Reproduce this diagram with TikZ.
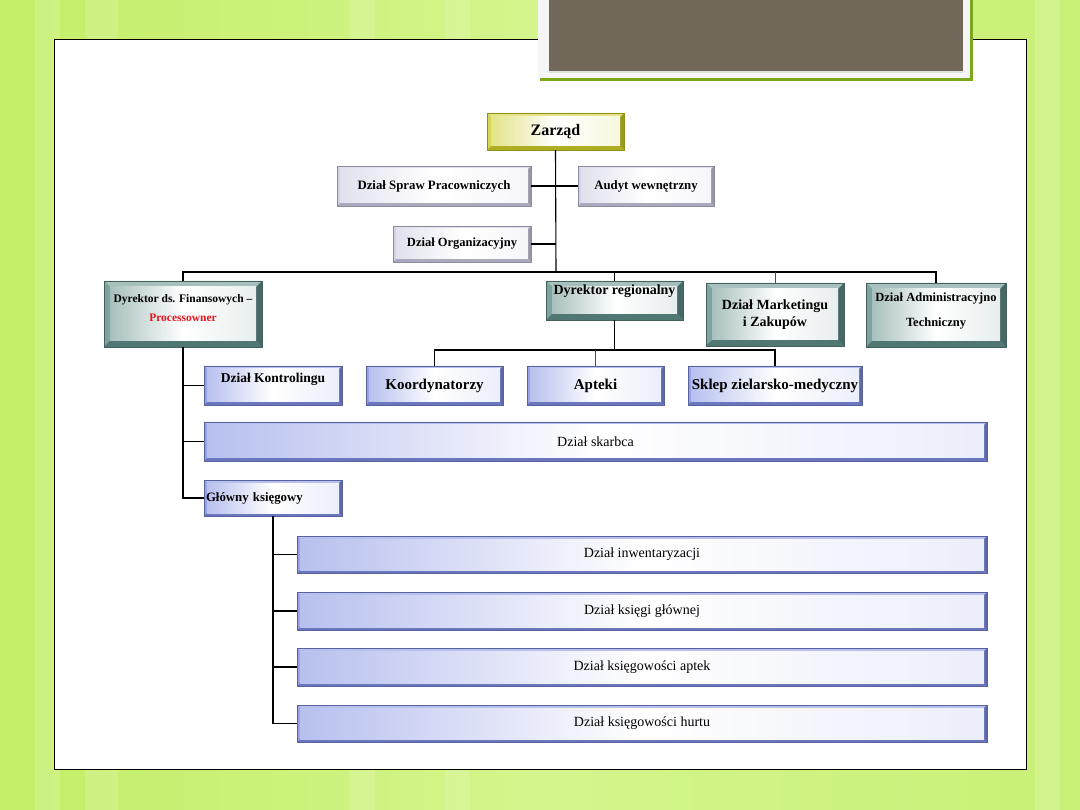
\documentclass[tikz,border=0pt]{standalone}
\usepackage{fontspec}
\setmainfont{Liberation Serif}
\usetikzlibrary{calc}
\definecolor{bgreen}{RGB}{196,238,104}
\definecolor{bgreenlt}{RGB}{212,245,140}
\definecolor{framegreen}{RGB}{122,168,26}
\definecolor{titlegray}{RGB}{113,104,90}
\definecolor{bluebev}{RGB}{125,140,225}
\definecolor{tealbev}{RGB}{95,140,135}
\definecolor{lavbev}{RGB}{200,200,225}
\definecolor{yelbev}{RGB}{205,205,40}
\definecolor{procred}{RGB}{230,20,30}
\tikzset{
  orgbox/.style={rectangle,inner sep=2pt,align=center,line width=0.5pt},
  bevel/.style 2 args={fill=#1,draw=#1!70!black,
    path picture={
      \fill[#1!55!white] (path picture bounding box.north west) -- (path picture bounding box.north east)
        -- ([xshift=-#2,yshift=-#2]path picture bounding box.north east)
        -- ([xshift=#2,yshift=-#2]path picture bounding box.north west) -- cycle;
      \fill[#1!80!white] (path picture bounding box.north west) -- (path picture bounding box.south west)
        -- ([xshift=#2,yshift=#2]path picture bounding box.south west)
        -- ([xshift=#2,yshift=-#2]path picture bounding box.north west) -- cycle;
      \fill[#1!75!black] (path picture bounding box.south east) -- (path picture bounding box.north east)
        -- ([xshift=-#2,yshift=-#2]path picture bounding box.north east)
        -- ([xshift=-#2,yshift=#2]path picture bounding box.south east) -- cycle;
      \fill[#1!85!black] (path picture bounding box.south east) -- (path picture bounding box.south west)
        -- ([xshift=#2,yshift=#2]path picture bounding box.south west)
        -- ([xshift=-#2,yshift=#2]path picture bounding box.south east) -- cycle;
      \shade[left color=#1!55!white,right color=#1!15!white,middle color=white]
        ([xshift=#2,yshift=-#2]path picture bounding box.north west)
        rectangle ([xshift=-#2,yshift=#2]path picture bounding box.south east);
    }},
  yellowbox/.style={orgbox,bevel={yelbev}{4pt},font=\bfseries\fontsize{16}{18}\selectfont},
  lavbox/.style={orgbox,bevel={lavbev}{3pt},font=\bfseries\fontsize{12.8}{15}\selectfont},
  tealbox/.style={orgbox,bevel={tealbev}{6pt},font=\bfseries\fontsize{14}{17}\selectfont},
  bluebox/.style={orgbox,bevel={bluebev}{3pt},font=\bfseries\fontsize{15}{17}\selectfont},
  longbox/.style={orgbox,bevel={bluebev}{3pt},font=\fontsize{14}{16}\selectfont},
  link/.style={line width=1.1pt,black},
  thinlink/.style={line width=0.6pt,black!70}
}
\begin{document}
\begin{tikzpicture}[x=1pt,y=-1pt]
  \useasboundingbox (0,0) rectangle (1080,810);
  \shade[left color=bgreen,right color=bgreen!90!white,middle color=bgreenlt] (0,0) rectangle (1080,810);
  \foreach \a/\b in {35/60,85/118,350/375,445/470,1035/1060}
    \fill[white,opacity=0.15] (\a,0) rectangle (\b,810);
  \fill[white] (54,40) rectangle (1026,769);
  \draw[line width=1pt] (54,40) rectangle (1026,769);
  \fill[framegreen] (540,0) rectangle (973,81);
  \fill[black!4] (538,0) rectangle (970,78);
  \fill[black!12] (549,0) rectangle (963,73);
  \fill[titlegray] (549,0) rectangle (963,71);

  \node[yellowbox,minimum width=137pt,minimum height=37pt] (zarzad) at (555.5,131.5) {Zarząd};
  \node[lavbox,minimum width=194pt,minimum height=40pt] (spraw) at (434,186) {Dział Spraw Pracowniczych};
  \node[lavbox,minimum width=136pt,minimum height=40pt] (audyt) at (646,186) {Audyt wewnętrzny};
  \node[lavbox,font=\bfseries\fontsize{12.5}{15}\selectfont,minimum width=138pt,minimum height=36pt] (org) at (462,244) {Dział Organizacyjny};

  \node[tealbox,font=\bfseries\fontsize{11.5}{19}\selectfont,minimum width=158pt,minimum height=66pt] (dirfin) at (183,314)
    {Dyrektor ds. Finansowych --\\{\color{procred}Processowner}\\[-8pt]};
  \node[tealbox,minimum width=137pt,minimum height=39pt] (reg) at (614.5,300.5) {Dyrektor regionalny\\[4pt]};
  \node[tealbox,minimum width=138pt,minimum height=63pt] (mark) at (775,314.5) {Dział Marketingu\\i Zakupów};
  \node[tealbox,font=\bfseries\fontsize{12.5}{25}\selectfont,minimum width=140pt,minimum height=64pt] (admin) at (936,315) {Dział Administracyjno\\Techniczny\\[-14pt]};

  \node[bluebox,minimum width=137pt,minimum height=39pt] (koord) at (434.5,385.5) {Koordynatorzy};
  \node[bluebox,minimum width=137pt,minimum height=39pt] (apteki) at (595.5,385.5) {Apteki};
  \node[bluebox,minimum width=174pt,minimum height=39pt] (sklep) at (775,385.5) {Sklep zielarsko-medyczny};

  \node[bluebox,font=\bfseries\fontsize{13.5}{15}\selectfont,minimum width=138pt,minimum height=39pt] (kontr) at (273,385.5) {Dział Kontrolingu\\[0pt]};
  \node[longbox,minimum width=783pt,minimum height=39pt] (skarb) at (595.5,441.5) {Dział skarbca};
  \node[bluebox,font=\bfseries\fontsize{12.8}{14}\selectfont,text width=134pt,align=left,minimum height=36pt,inner xsep=2pt] (glowny) at (273,498) {Główny księgowy};

  \node[longbox,minimum width=690pt,minimum height=37pt] (inw) at (642,554.5) {Dział inwentaryzacji};
  \node[longbox,minimum width=690pt,minimum height=38pt] (ksg) at (642,611) {Dział księgi głównej};
  \node[longbox,minimum width=690pt,minimum height=38pt] (ksa) at (642,667) {Dział księgowości aptek};
  \node[longbox,minimum width=690pt,minimum height=37pt] (ksh) at (642,723.5) {Dział księgowości hurtu};

  \coordinate (bus) at (556,272);
  \coordinate (rbus) at (614.5,350);
  \draw[link] (zarzad.south) -- (bus);
  \draw[link] (spraw.east) -- (spraw.east -| zarzad.south);
  \draw[link] (audyt.west) -- (audyt.west -| zarzad.south);
  \draw[link] (org.east) -- (org.east -| zarzad.south);
  \draw[link] (dirfin.north) |- (bus) -| (admin.north);
  \draw[link] (reg.north) -- (reg.north |- bus);
  \draw[thinlink] (mark.north) -- (mark.north |- bus);
  \draw[link] (reg.south) -- (rbus);
  \draw[link] (koord.north) |- (rbus) -| (sklep.north);
  \draw[thinlink] (apteki.north) -- (apteki.north |- rbus);
  \draw[link] (dirfin.south) |- (glowny.west);
  \draw[link] (kontr.west) -- (kontr.west -| dirfin.south);
  \draw[link] (skarb.west) -- (skarb.west -| dirfin.south);
  \draw[link] (glowny.south) |- (ksh.west);
  \foreach \n in {inw,ksg,ksa}
    \draw[link] (\n.west) -- (\n.west -| glowny.south);
\end{tikzpicture}
\end{document}
